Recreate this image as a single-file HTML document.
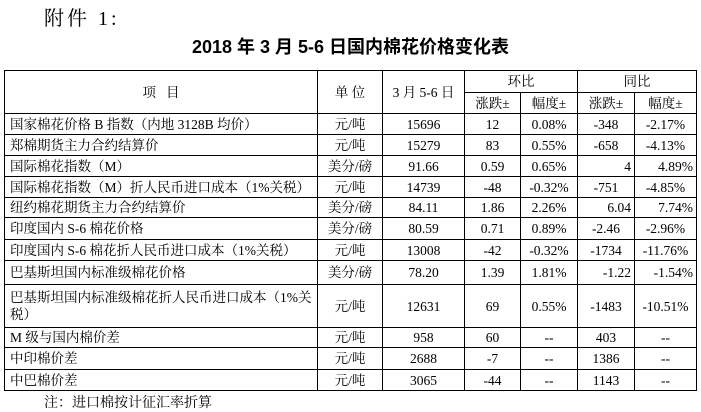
<!DOCTYPE html>
<html><head><meta charset="utf-8"><style>
body{margin:0;width:701px;height:411px;background:#fff;position:relative;overflow:hidden;font-family:"Liberation Serif","Noto Serif CJK SC",serif;color:#000}
.att{position:absolute;left:44px;top:2px;font-size:20px;letter-spacing:3px}
.title{position:absolute;left:0;width:701px;top:33px;text-align:center;font-family:"Liberation Sans","Noto Sans CJK SC",sans-serif;font-weight:bold;font-size:18px;}
table{position:absolute;left:4px;top:70px;border-collapse:collapse;table-layout:fixed;font-size:13.5px}
td{border:1px solid #000;padding:0 3px;text-align:center;white-space:nowrap;line-height:17px;overflow:hidden}
td.l{text-align:left;padding-left:5px}
td.w{white-space:normal}
td.r{text-align:right}
.note{position:absolute;left:44px;top:392px;font-size:14px}
</style></head><body>
<div class="att">附件 1:</div>
<div class="title">2018 年 3 月 5-6 日国内棉花价格变化表</div>
<table>
<colgroup><col style="width:313px"><col style="width:65px"><col style="width:82px"><col style="width:56px"><col style="width:57px"><col style="width:57px"><col style="width:62px"></colgroup>
<tr style="height:22px"><td rowspan="2">项 &nbsp; 目</td><td rowspan="2">单 位</td><td rowspan="2">3 月 5-6 日</td><td colspan="2">环比</td><td colspan="2">同比</td></tr>
<tr style="height:21px"><td>涨跌±</td><td>幅度±</td><td>涨跌±</td><td>幅度±</td></tr>
<tr style="height:21px"><td class="l">国家棉花价格 B 指数（内地 3128B 均价）</td><td>元/吨</td><td>15696</td><td>12</td><td>0.08%</td><td>-348</td><td>-2.17%</td></tr>
<tr style="height:21px"><td class="l">郑棉期货主力合约结算价</td><td>元/吨</td><td>15279</td><td>83</td><td>0.55%</td><td>-658</td><td>-4.13%</td></tr>
<tr style="height:21px"><td class="l">国际棉花指数（M）</td><td>美分/磅</td><td>91.66</td><td>0.59</td><td>0.65%</td><td class="r">4</td><td class="r">4.89%</td></tr>
<tr style="height:21px"><td class="l">国际棉花指数（M）折人民币进口成本（1%关税）</td><td>元/吨</td><td>14739</td><td>-48</td><td>-0.32%</td><td>-751</td><td>-4.85%</td></tr>
<tr style="height:20px"><td class="l">纽约棉花期货主力合约结算价</td><td>美分/磅</td><td>84.11</td><td>1.86</td><td>2.26%</td><td class="r">6.04</td><td class="r">7.74%</td></tr>
<tr style="height:22px"><td class="l">印度国内 S-6 棉花价格</td><td>美分/磅</td><td>80.59</td><td>0.71</td><td>0.89%</td><td>-2.46</td><td>-2.96%</td></tr>
<tr style="height:21px"><td class="l">印度国内 S-6 棉花折人民币进口成本（1%关税）</td><td>元/吨</td><td>13008</td><td>-42</td><td>-0.32%</td><td>-1734</td><td>-11.76%</td></tr>
<tr style="height:24px"><td class="l">巴基斯坦国内标准级棉花价格</td><td>美分/磅</td><td>78.20</td><td>1.39</td><td>1.81%</td><td class="r">-1.22</td><td class="r">-1.54%</td></tr>
<tr style="height:43px"><td class="l w">巴基斯坦国内标准级棉花折人民币进口成本（1%关税）</td><td>元/吨</td><td>12631</td><td>69</td><td>0.55%</td><td>-1483</td><td>-10.51%</td></tr>
<tr style="height:20px"><td class="l">M 级与国内棉价差</td><td>元/吨</td><td>958</td><td>60</td><td>--</td><td>403</td><td>--</td></tr>
<tr style="height:22px"><td class="l">中印棉价差</td><td>元/吨</td><td>2688</td><td>-7</td><td>--</td><td>1386</td><td>--</td></tr>
<tr style="height:21px"><td class="l">中巴棉价差</td><td>元/吨</td><td>3065</td><td>-44</td><td>--</td><td>1143</td><td>--</td></tr>
</table>
<div class="note">注：进口棉按计征汇率折算</div>
</body></html>
